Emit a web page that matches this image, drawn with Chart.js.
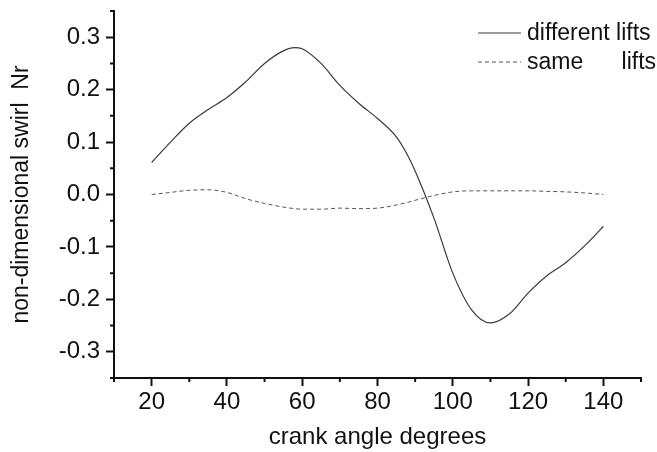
<!DOCTYPE html>
<html>
<head>
<meta charset="utf-8">
<script src="https://cdn.jsdelivr.net/npm/chart.js@4.4.1/dist/chart.umd.min.js"></script>
<style>
  html, body { margin: 0; padding: 0; background: #fff; }
  #wrap { width: 657px; height: 452px; }
</style>
</head>
<body>
<div id="wrap"><canvas id="swirl" width="657" height="452"></canvas></div>
<script>
// crank angle (deg) and swirl values
const angles = [20, 25, 30, 35, 40, 45, 50, 55, 58, 60, 65, 70, 75, 80, 85, 88, 90, 95, 100, 105, 110, 115, 120, 125, 130, 135, 140];
const differentLifts = [0.061, 0.100, 0.136, 0.162, 0.185, 0.215, 0.250, 0.274, 0.280, 0.278, 0.250, 0.208, 0.174, 0.145, 0.110, 0.075, 0.045, -0.045, -0.150, -0.220, -0.245, -0.228, -0.188, -0.155, -0.130, -0.098, -0.061];
const sameLifts = [0.000, 0.004, 0.008, 0.009, 0.004, -0.008, -0.017, -0.024, -0.027, -0.028, -0.028, -0.026, -0.027, -0.026, -0.020, -0.015, -0.011, -0.002, 0.005, 0.007, 0.007, 0.007, 0.007, 0.006, 0.005, 0.003, 0.000];

const xTicks = [20, 40, 60, 80, 100, 120, 140];
const yTicks = [-0.3, -0.2, -0.1, 0.0, 0.1, 0.2, 0.3];
const xMinor = [10, 30, 50, 70, 90, 110, 130, 150];
const yMinor = [-0.35, -0.25, -0.15, -0.05, 0.05, 0.15, 0.25, 0.35];

const seriesNames = ['different lifts', 'same      lifts'];

const FONT = '"Liberation Sans", Arial, sans-serif';
const INK = '#111';

function toPoints(ys) {
  return angles.map((a, i) => ({ x: a, y: ys[i] }));
}

// short minor ticks drawn through the scales
const minorTicks = {
  id: 'minorTicks',
  afterDraw(chart) {
    const ctx = chart.ctx;
    const xs = chart.scales.x;
    const ys = chart.scales.y;
    const area = chart.chartArea;
    ctx.save();
    ctx.strokeStyle = INK;
    ctx.lineWidth = 2;
    ctx.beginPath();
    xMinor.forEach(v => {
      const px = xs.getPixelForValue(v);
      ctx.moveTo(px, area.bottom);
      ctx.lineTo(px, area.bottom + 4);
    });
    yMinor.forEach(v => {
      const py = ys.getPixelForValue(v);
      ctx.moveTo(area.left, py);
      ctx.lineTo(area.left - 4, py);
    });
    ctx.stroke();
    ctx.restore();
  }
};

// legend inside the plot, top right
const innerLegend = {
  id: 'innerLegend',
  afterDraw(chart) {
    const ctx = chart.ctx;
    const area = chart.chartArea;
    ctx.save();
    ctx.font = '23px ' + FONT;
    ctx.textBaseline = 'middle';
    ctx.fillStyle = INK;
    chart.data.datasets.forEach((ds, i) => {
      const y = area.top + 22 + i * 29;
      ctx.strokeStyle = ds.borderColor;
      ctx.lineWidth = 1;
      ctx.setLineDash(ds.borderDash || []);
      ctx.beginPath();
      ctx.moveTo(area.right - 163, y);
      ctx.lineTo(area.right - 120, y);
      ctx.stroke();
      ctx.setLineDash([]);
      ctx.fillText(ds.label, area.right - 114, y + 1);
    });
    ctx.restore();
  }
};

new Chart(document.getElementById('swirl'), {
  type: 'line',
  data: {
    datasets: [
      {
        label: seriesNames[0],
        data: toPoints(differentLifts),
        borderColor: '#3a3a3a',
        borderWidth: 1.2,
        pointRadius: 0,
        cubicInterpolationMode: 'monotone',
        fill: false
      },
      {
        label: seriesNames[1],
        data: toPoints(sameLifts),
        borderColor: '#555',
        borderWidth: 1,
        borderDash: [4, 3],
        pointRadius: 0,
        cubicInterpolationMode: 'monotone',
        fill: false
      }
    ]
  },
  options: {
    responsive: false,
    devicePixelRatio: 1,
    animation: false,
    layout: { padding: { top: 11, right: 16, left: 0, bottom: 0 } },
    plugins: {
      legend: { display: false },
      tooltip: { enabled: false }
    },
    scales: {
      x: {
        type: 'linear',
        min: 10,
        max: 150,
        afterBuildTicks: scale => { scale.ticks = xTicks.map(v => ({ value: v })); },
        afterFit: scale => {
          scale.height = 74;
          scale.paddingLeft = 0;
          scale.paddingRight = 0;
        },
        grid: { drawOnChartArea: false, tickLength: 8, tickWidth: 2, tickColor: INK },
        border: { display: true, color: INK, width: 2 },
        ticks: {
          color: INK,
          font: { family: FONT, size: 24 },
          padding: 2,
          maxRotation: 0,
          callback: v => String(v)
        },
        title: {
          display: true,
          text: 'crank angle degrees',
          color: INK,
          font: { family: FONT, size: 24 },
          padding: { top: 0, bottom: 0 }
        }
      },
      y: {
        min: -0.35,
        max: 0.35,
        afterBuildTicks: scale => { scale.ticks = yTicks.map(v => ({ value: v })); },
        afterFit: scale => {
          scale.width = 114;
          scale.paddingTop = 0;
          scale.paddingBottom = 0;
        },
        grid: { drawOnChartArea: false, tickLength: 8, tickWidth: 2, tickColor: INK },
        border: { display: true, color: INK, width: 2 },
        ticks: {
          color: INK,
          font: { family: FONT, size: 24 },
          padding: 6,
          callback: v => v.toFixed(1)
        },
        title: {
          display: true,
          text: 'non-dimensional swirl  Nr',
          color: INK,
          font: { family: FONT, size: 23 },
          padding: { top: 8, bottom: 0 }
        }
      }
    }
  },
  plugins: [minorTicks, innerLegend]
});
</script>
</body>
</html>
